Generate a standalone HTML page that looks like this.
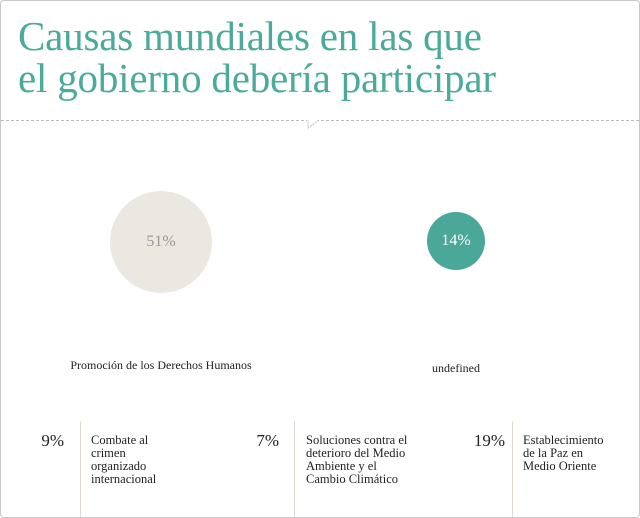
<!DOCTYPE html>
<html><head><meta charset="utf-8"><style>
html,body{margin:0;padding:0;background:#fff;}
#w{position:relative;width:638px;height:516px;border:1px solid #c8c8c8;border-radius:4px;overflow:hidden;font-family:"Liberation Serif",serif;}
h1{position:absolute;left:17px;top:14px;margin:0;font-weight:normal;font-size:41px;line-height:42px;color:#4aab9a;letter-spacing:-0.2px;}
.dash{position:absolute;left:0;top:119px;width:638px;border-top:1px dashed #bbb;}
.c{position:absolute;border-radius:50%;text-align:center;}
.t{position:absolute;font-size:12px;color:#222;white-space:nowrap;}
.p{position:absolute;font-size:17px;color:#222;text-align:right;width:60px;}
.v{position:absolute;top:420px;height:100px;border-left:1px solid #ddd8d0;}
.l{position:absolute;font-size:12.5px;line-height:13px;color:#222;top:433px;white-space:nowrap;}
</style></head><body><div id="w">
<h1>Causas mundiales en las que<br>el gobierno debería participar</h1>
<div class="dash"></div>
<svg style="position:absolute;left:300px;top:115px" width="24" height="14"><polygon points="6,4 18,4 7,12" fill="#fff"/><polyline points="18,4 7,12 7,4" fill="none" stroke="#bbb" stroke-dasharray="2,1"/></svg>
<div class="c" style="left:109px;top:190px;width:102px;height:102px;background:#ebe8e2;line-height:102px;font-size:16px;color:#999;">51%</div>
<div class="c" style="left:426px;top:211px;width:58px;height:58px;background:#4aa898;line-height:58px;font-size:16px;color:#fff;">14%</div>
<div class="t" style="left:40px;width:240px;text-align:center;top:357px;">Promoción de los Derechos Humanos</div>
<div class="t" style="left:395px;width:120px;text-align:center;top:360px;">undefined</div>
<div class="v" style="left:79px"></div><div class="v" style="left:293px"></div><div class="v" style="left:511px"></div>
<div class="p" style="left:3px;top:430px">9%</div>
<div class="p" style="left:218px;top:430px">7%</div>
<div class="p" style="left:444px;top:430px">19%</div>
<div class="l" style="left:90px">Combate al<br>crimen<br>organizado<br>internacional</div>
<div class="l" style="left:305px">Soluciones contra el<br>deterioro del Medio<br>Ambiente y el<br>Cambio Climático</div>
<div class="l" style="left:522px">Establecimiento<br>de la Paz en<br>Medio Oriente</div>
</div></body></html>
